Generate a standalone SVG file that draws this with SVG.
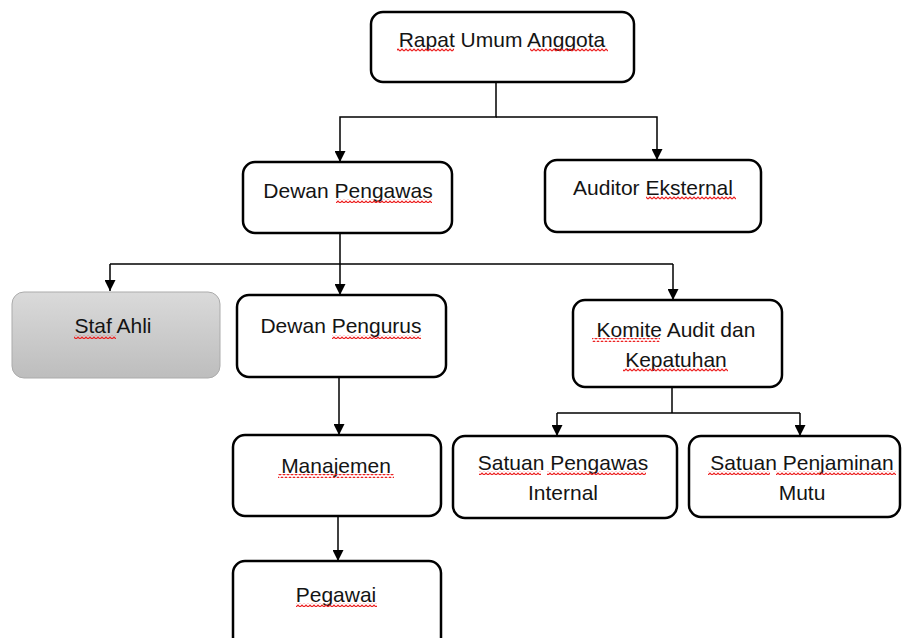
<svg xmlns="http://www.w3.org/2000/svg" width="902" height="638" viewBox="0 0 902 638">
<style>
.box{fill:#fff;stroke:#000;stroke-width:2.5}
.t{font-family:"Liberation Sans",Arial,sans-serif;font-size:21px;fill:#141414;text-anchor:middle}
.c{fill:none;stroke:#000;stroke-width:1.5}
.a{marker-end:url(#arr)}
.sq{fill:url(#wave)}
</style>
<defs>
<marker id="arr" viewBox="0 0 11 11" refX="11" refY="5.5" markerWidth="11" markerHeight="11" markerUnits="userSpaceOnUse" orient="auto">
<path d="M0,0 L11,5.5 L0,11 z" fill="#000"/>
</marker>
<linearGradient id="grey" x1="0" y1="0" x2="0" y2="1">
<stop offset="0" stop-color="#dadada"/>
<stop offset="1" stop-color="#bdbdbd"/>
</linearGradient>
<pattern id="wave" width="4" height="4" patternUnits="userSpaceOnUse">
<path d="M0,3 L2,1 L4,3" fill="none" stroke="#ec1c1c" stroke-width="1.2"/>
</pattern>
</defs>
<rect width="902" height="638" fill="#fff"/>
<g id="connectors">
<path class="c a" d="M496,82 V117 H340 V162"/>
<path class="c a" d="M496,117 H657 V160"/>
<path class="c a" d="M340,233 V295"/>
<path class="c" d="M110,264 H673"/>
<path class="c a" d="M110,264 V291"/>
<path class="c a" d="M673,264 V300"/>
<path class="c a" d="M339,377 V435"/>
<path class="c a" d="M338,516 V561"/>
<path class="c" d="M672,387 V413"/>
<path class="c" d="M557,413 H800"/>
<path class="c a" d="M557,413 V436"/>
<path class="c a" d="M800,413 V436"/>
</g>
<g id="rapat">
<rect class="box" x="371" y="12" width="263" height="70" rx="12"/>
<text class="t" x="502" y="47">Rapat Umum Anggota</text>
<rect class="sq" x="397" y="48" width="57" height="4"/>
<rect class="sq" x="530" y="48" width="78" height="4"/>
</g>
<g id="dewan-pengawas">
<rect class="box" x="243" y="162" width="209" height="71" rx="12"/>
<text class="t" x="348" y="198">Dewan Pengawas</text>
<rect class="sq" x="336" y="199" width="96" height="4"/>
</g>
<g id="auditor">
<rect class="box" x="545" y="160" width="216" height="72" rx="12"/>
<text class="t" x="653" y="195">Auditor Eksternal</text>
<rect class="sq" x="646" y="196" width="90" height="4"/>
</g>
<g id="staf-ahli">
<rect x="12" y="292" width="208" height="86" rx="12" fill="url(#grey)" stroke="#ababab" stroke-width="1"/>
<text class="t" x="113" y="333">Staf Ahli</text>
<rect class="sq" x="74" y="335" width="42" height="4"/>
</g>
<g id="dewan-pengurus">
<rect class="box" x="237" y="295" width="209" height="82" rx="12"/>
<text class="t" x="341" y="333">Dewan Pengurus</text>
<rect class="sq" x="332" y="335" width="89" height="4"/>
</g>
<g id="komite">
<rect class="box" x="573" y="300" width="209" height="87" rx="12"/>
<text class="t" x="676" y="337">Komite Audit dan</text>
<text class="t" x="676" y="367">Kepatuhan</text>
<rect class="sq" x="592" y="338" width="68" height="4"/>
<rect class="sq" x="623" y="368" width="105" height="4"/>
</g>
<g id="satuan-pengawas">
<rect class="box" x="453" y="436" width="224" height="82" rx="12"/>
<text class="t" x="563" y="470">Satuan Pengawas</text>
<text class="t" x="563" y="500">Internal</text>
<rect class="sq" x="479" y="471" width="62" height="4"/>
<rect class="sq" x="547" y="471" width="99" height="4"/>
</g>
<g id="satuan-penjaminan">
<rect class="box" x="689" y="436" width="211" height="81" rx="12"/>
<text class="t" x="802" y="470">Satuan Penjaminan</text>
<text class="t" x="802" y="500">Mutu</text>
<rect class="sq" x="708" y="471" width="62" height="4"/>
<rect class="sq" x="776" y="471" width="120" height="4"/>
</g>
<g id="manajemen">
<rect class="box" x="233" y="435" width="208" height="81" rx="12"/>
<text class="t" x="336" y="473">Manajemen</text>
<rect class="sq" x="278" y="474" width="116" height="4"/>
</g>
<g id="pegawai">
<rect class="box" x="233" y="561" width="208" height="90" rx="12"/>
<text class="t" x="336" y="602">Pegawai</text>
<rect class="sq" x="296" y="603" width="81" height="4"/>
</g>
</svg>
